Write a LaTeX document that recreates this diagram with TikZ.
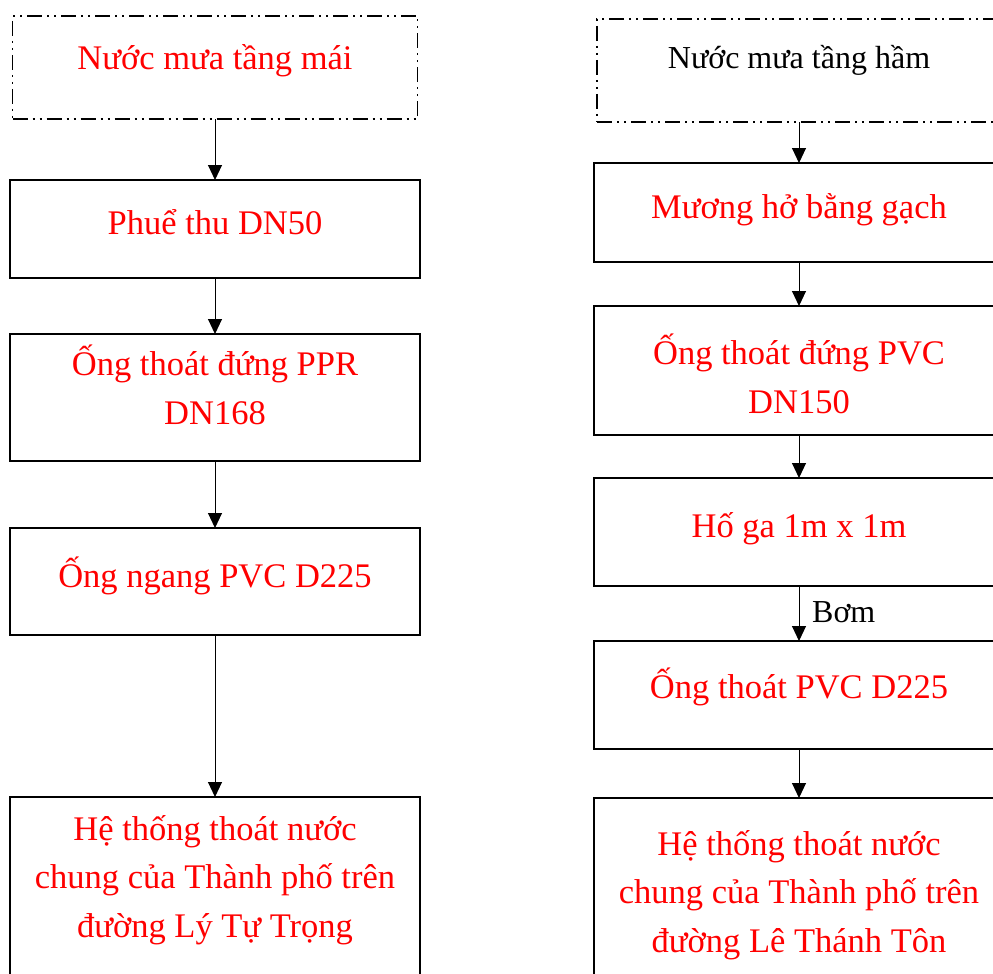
\documentclass[tikz,border=0pt]{standalone}
\usepackage{fontspec}
\setmainfont{Liberation Serif}
\usetikzlibrary{arrows.meta}
\definecolor{txtred}{RGB}{255,0,0}
\tikzset{
  box/.style={draw=black, line width=1.4pt, rectangle, inner sep=0pt, outer sep=0pt},
  dashbox/.style={draw=black, line width=1.4pt, rectangle, inner sep=0pt, outer sep=0pt,
    dash pattern=on 15pt off 5pt on 2pt off 5pt on 2pt off 5pt},
  rt/.style={text=txtred, font=\fontsize{34.5}{48.5}\selectfont, anchor=base, inner sep=0pt},
  bt/.style={text=black, font=\fontsize{32}{42}\selectfont, anchor=base, inner sep=0pt},
  flow/.style={draw=black, line width=1pt, -{Triangle[length=15pt,width=14pt]}}
}
\begin{document}
\begin{tikzpicture}[x=1pt,y=-1pt]
\useasboundingbox (0,0) rectangle (993,974);
\clip (0,0) rectangle (993,974);
% left column
\node[dashbox, minimum width=405pt, minimum height=103pt] (L1) at (215,67.5) {};
\node[box, minimum width=410pt, minimum height=98pt] (L2) at (215,229) {};
\node[box, minimum width=410pt, minimum height=127pt] (L3) at (215,397.5) {};
\node[box, minimum width=410pt, minimum height=107pt] (L4) at (215,581.5) {};
\node[box, minimum width=410pt, minimum height=200pt] (L5) at (215,897) {};
\node[rt] (tL1) at (215,70) {Nước mưa tầng mái};
\node[rt] (tL2) at (215,234) {Phuể thu DN50};
\node[rt] (tL3a) at (215,375) {Ống thoát đứng PPR};
\node[rt] (tL3b) at (215,424) {DN168};
\node[rt] (tL4) at (215,587) {Ống ngang PVC D225};
\node[rt] (tL5a) at (215,840) {Hệ thống thoát nước};
\node[rt] (tL5b) at (215,888) {chung của Thành phố trên};
\node[rt] (tL5c) at (215,937) {đường Lý Tự Trọng};
\draw[flow] (L1.south) -- (L2.north);
\draw[flow] (L2.south) -- (L3.north);
\draw[flow] (L3.south) -- (L4.north);
\draw[flow] (L4.south) -- (L5.north);
% right column
\node[dashbox, minimum width=404pt, minimum height=103pt] (R1) at (799,70.5) {};
\node[box, minimum width=410pt, minimum height=99pt] (R2) at (799,212.5) {};
\node[box, minimum width=410pt, minimum height=129pt] (R3) at (799,370.5) {};
\node[box, minimum width=410pt, minimum height=108pt] (R4) at (799,532) {};
\node[box, minimum width=410pt, minimum height=108pt] (R5) at (799,695) {};
\node[box, minimum width=410pt, minimum height=200pt] (R6) at (799,898) {};
\node[bt] (tR1) at (799,68) {Nước mưa tầng hầm};
\node[rt] (tR2) at (799,218) {Mương hở bằng gạch};
\node[rt] (tR3a) at (799,364) {Ống thoát đứng PVC};
\node[rt] (tR3b) at (799,413) {DN150};
\node[rt] (tR4) at (799,537) {Hố ga 1m x 1m};
\node[rt] (tR5) at (799,698) {Ống thoát PVC D225};
\node[rt] (tR6a) at (799,855) {Hệ thống thoát nước};
\node[rt] (tR6b) at (799,903) {chung của Thành phố trên};
\node[rt] (tR6c) at (799,952) {đường Lê Thánh Tôn};
\draw[flow] (R1.south) -- (R2.north);
\draw[flow] (R2.south) -- (R3.north);
\draw[flow] (R3.south) -- (R4.north);
\draw[flow] (R4.south) -- (R5.north);
\node[bt, anchor=base west] (bom) at (812,622) {Bơm};
\draw[flow] (R5.south) -- (R6.north);
\end{tikzpicture}
\end{document}
